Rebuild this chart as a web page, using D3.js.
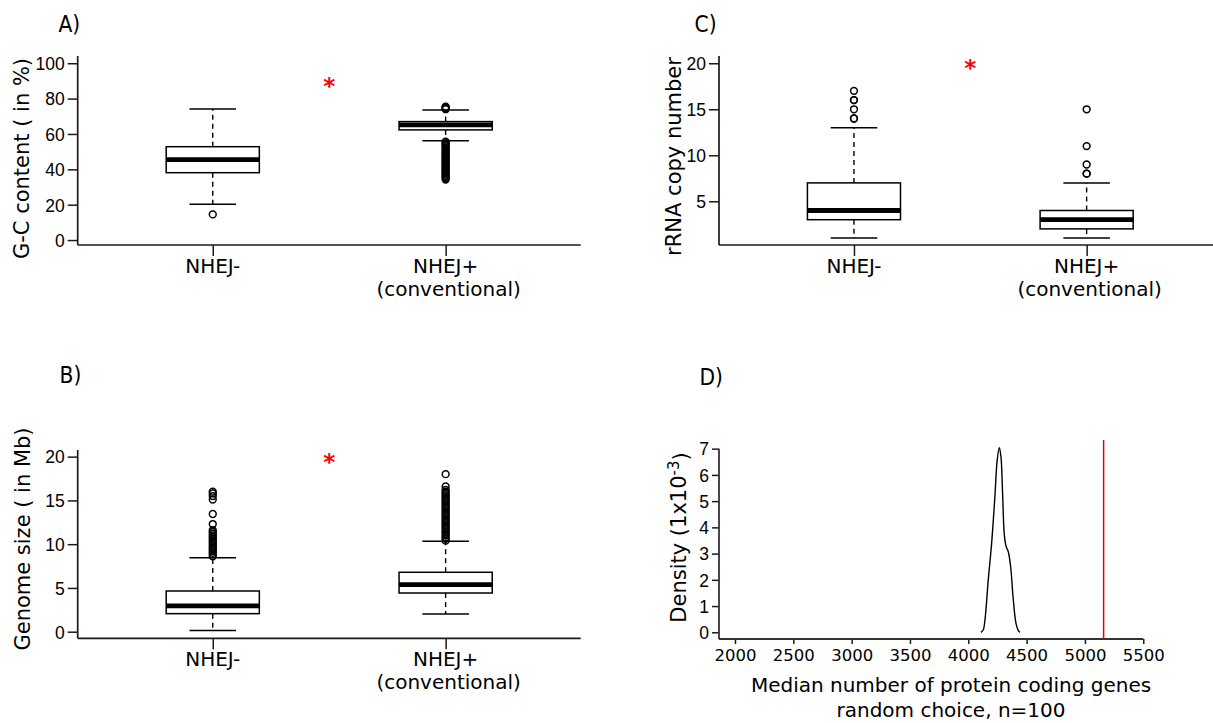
<!DOCTYPE html>
<html><head><meta charset="utf-8">
<script src="https://cdn.jsdelivr.net/npm/d3@7"></script>
<style>body{margin:0;background:#fff}svg{display:block}</style>
</head><body><svg id="c" width="1213" height="723"></svg>
<script>
// ---------------- data ----------------
const categories = ["NHEJ-", "NHEJ+"];
const categorySub = ["", "(conventional)"];

// box stats: [lower whisker, Q1, median, Q3, upper whisker]
const gcStats = [[20.2, 38.1, 45.5, 52.8, 74.1], [56.2, 62.3, 65.1, 67.0, 73.6]];
const gcOutliers = [
  [14.5],
  [75.4, 75.0, 74.5, 74.0, 55.6, 54.8, 54.2, 53.5, 52.6, 51.8, 50.9, 50.1, 49.3, 48.6, 47.9, 47.1, 46.4,
   45.7, 45.0, 44.2, 43.5, 42.8, 42.0, 41.3, 40.6, 39.8, 39.1, 38.4, 37.7, 37.0, 36.3, 35.6, 34.9, 34.2]
];
const gcTicks = [0, 20, 40, 60, 80, 100];

const genomeStats = [[0.15, 2.06, 2.94, 4.65, 8.46], [2.02, 4.42, 5.37, 6.79, 10.33]];
const genomeOutliers = [
  [8.6, 8.8, 9.0, 9.2, 9.4, 9.6, 9.8, 10.0, 10.2, 10.4, 10.6, 10.8, 11.0, 11.2, 11.4, 11.6, 12.3, 13.45, 15.1, 15.5, 15.8, 16.0],
  [10.4, 10.6, 10.8, 11.0, 11.2, 11.4, 11.6, 11.8, 12.0, 12.2, 12.4, 12.6, 12.8, 13.0, 13.2, 13.4, 13.6, 13.8,
   14.0, 14.2, 14.4, 14.6, 14.8, 15.0, 15.2, 15.4, 15.6, 15.8, 16.0, 16.2, 16.6, 18.0]
];
const genomeTicks = [0, 5, 10, 15, 20];

const rrnaStats = [[1, 3, 4, 7, 13], [1, 2, 3, 4, 7]];
const rrnaOutliers = [[14, 14, 15, 16, 16, 17], [8, 8, 9, 11, 15]];
const rrnaTicks = [5, 10, 15, 20];

const starValues = [90, 20, 20];

// density of median number of protein coding genes (random choice, n=100), density x 10^3
const densityX = [4108, 4128, 4143, 4171, 4200, 4228, 4248, 4266, 4280, 4294, 4308, 4323, 4343, 4363, 4386, 4409, 4429, 4443];
const densityY = [0.0, 0.09, 0.47, 1.99, 3.39, 5.17, 6.57, 7.04, 6.7, 5.3, 3.77, 3.29, 3.07, 2.5, 1.23, 0.34, 0.06, 0.0];
const densityXTicks = [2000, 2500, 3000, 3500, 4000, 4500, 5000, 5500];
const densityYTicks = [0, 1, 2, 3, 4, 5, 6, 7];
const observedMedian = 5160;

// ---------------- drawing ----------------
const svg = d3.select("#c");
const AX = "#1a1a1a";
const FT = "'Liberation Sans', Arial, sans-serif";
const FD = "'DejaVu Sans', sans-serif";
const FC = "'DejaVu Sans Condensed', 'DejaVu Sans', sans-serif";

function styleAxis(g, fontFamily, fontSize) {
  g.select(".domain").remove();
  g.selectAll(".tick line").attr("stroke", AX).attr("stroke-width", 1.5);
  g.selectAll(".tick text").attr("fill", "#000").style("font-family", fontFamily).style("font-size", fontSize + "px");
}

function title(txt, x, y) {
  svg.append("text").attr("x", x).attr("y", y).text(txt)
    .style("font-family", FC).style("font-stretch", "condensed").style("font-size", "22.5px").attr("fill", "#000");
}

function ylabel(txt, x, y, sup) {
  const t = svg.append("text").attr("transform", `translate(${x},${y}) rotate(-90)`)
    .attr("text-anchor", "middle").style("font-family", FD).style("font-size", "21px").attr("fill", "#000");
  t.append("tspan").text(txt);
  if (sup) {
    t.append("tspan").text(sup).attr("dy", "-0.45em").style("font-size", "15px");
    t.append("tspan").text(")").attr("dy", "0.45em");
  }
}

function boxPanel(c) {
  const g = svg.append("g");
  const x = d3.scaleLinear().domain([0.42, 2.58]).range([c.left, c.right]);
  const y = d3.scaleLinear().domain(c.yDomain).range([c.bottom, c.top]);

  const ya = g.append("g").attr("transform", `translate(${c.left},0)`)
    .call(d3.axisLeft(y).tickValues(c.ticks).tickSize(10).tickPadding(3).tickSizeOuter(0));
  styleAxis(ya, FT, 17.5);
  ya.selectAll(".tick text").attr("dy", "0.36em");
  const xa = g.append("g").attr("transform", `translate(0,${c.bottom})`)
    .call(d3.axisBottom(x).tickValues([1, 2]).tickSize(11).tickFormat("").tickSizeOuter(0));
  styleAxis(xa, FD, 19);
  g.append("line").attr("x1", c.left).attr("x2", c.left).attr("y1", c.top).attr("y2", c.bottom)
    .attr("stroke", AX).attr("stroke-width", 1.7);
  g.append("line").attr("x1", c.left).attr("x2", c.right).attr("y1", c.bottom).attr("y2", c.bottom)
    .attr("stroke", AX).attr("stroke-width", 1.7);

  categories.forEach((cat, i) => {
    const t = g.append("text").attr("text-anchor", "middle").attr("fill", "#000")
      .style("font-family", FD).style("font-size", "20px");
    t.append("tspan").attr("x", x(i + 1)).attr("y", c.bottom + 28).text(cat);
    if (categorySub[i]) t.append("tspan").attr("x", x(i + 1) + 3).attr("y", c.bottom + 51).text(categorySub[i]);
  });

  const hw = x(1.2) - x(1), sw = x(1.1) - x(1);
  c.stats.forEach((s, i) => {
    const cx = x(i + 1);
    const [lo, q1, med, q3, hi] = s;
    const bg = g.append("g");
    bg.append("line").attr("x1", cx).attr("x2", cx).attr("y1", y(q3)).attr("y2", y(hi))
      .attr("stroke", "#000").attr("stroke-width", 1.4).attr("stroke-dasharray", "5,4");
    bg.append("line").attr("x1", cx).attr("x2", cx).attr("y1", y(q1)).attr("y2", y(lo))
      .attr("stroke", "#000").attr("stroke-width", 1.4).attr("stroke-dasharray", "5,4");
    [lo, hi].forEach(v => bg.append("line").attr("x1", cx - sw).attr("x2", cx + sw).attr("y1", y(v)).attr("y2", y(v))
      .attr("stroke", "#000").attr("stroke-width", 1.5));
    bg.append("rect").attr("x", cx - hw).attr("width", 2 * hw).attr("y", y(q3)).attr("height", y(q1) - y(q3))
      .attr("fill", "#fff").attr("stroke", "#000").attr("stroke-width", 1.5);
    bg.append("line").attr("x1", cx - hw).attr("x2", cx + hw).attr("y1", y(med)).attr("y2", y(med))
      .attr("stroke", "#000").attr("stroke-width", 4.8);
    bg.selectAll("circle.o").data(c.outliers[i]).enter().append("circle")
      .attr("cx", cx).attr("cy", d => y(d)).attr("r", 3.4)
      .attr("fill", "none").attr("stroke", "#000").attr("stroke-width", 1.5);
  });

  g.append("text").attr("x", x(1.5)).attr("y", y(c.star)).attr("dy", "0.56em").attr("text-anchor", "middle")
    .text("*").attr("fill", "#ff0000").style("font-family", FD).style("font-weight", "bold").style("font-size", "23px");
}

boxPanel({left: 77.7, right: 580.7, top: 56, bottom: 245, yDomain: [-2.8, 104.1],
  ticks: gcTicks, stats: gcStats, outliers: gcOutliers, star: starValues[0]});
ylabel("G-C content ( in %)", 29, 158.5);
title("A)", 58.5, 31.5);

boxPanel({left: 77.7, right: 580.7, top: 450, bottom: 638.3, yDomain: [-0.754, 20.76],
  ticks: genomeTicks, stats: genomeStats, outliers: genomeOutliers, star: starValues[1]});
ylabel("Genome size ( in Mb)", 29.5, 539);
title("B)", 59.5, 383);

boxPanel({left: 719, right: 1221.6, top: 56, bottom: 245, yDomain: [0.25, 20.79],
  ticks: rrnaTicks, stats: rrnaStats, outliers: rrnaOutliers, star: starValues[2]});
ylabel("rRNA copy number", 680.5, 156.5);
title("C)", 694.5, 31.5);

(function () {
  const g = svg.append("g");
  const left = 719, bottom = 639, top = 440;
  const x = d3.scaleLinear().domain([1863, 5640]).range([left, 1159.6]);
  const y = d3.scaleLinear().domain([-0.255, 7.33]).range([bottom, top]);

  const xa = g.append("g").attr("transform", `translate(0,${bottom})`)
    .call(d3.axisBottom(x).tickValues(densityXTicks).tickSize(5).tickPadding(5).tickSizeOuter(0).tickFormat(d3.format("d")));
  styleAxis(xa, FD, 16.5);
  const ya = g.append("g").attr("transform", `translate(${left},0)`)
    .call(d3.axisLeft(y).tickValues(densityYTicks).tickSize(7).tickPadding(3).tickSizeOuter(0));
  styleAxis(ya, FT, 17.5);
  ya.selectAll(".tick text").attr("dy", "0.36em");

  g.append("line").attr("x1", left).attr("x2", x(densityXTicks[densityXTicks.length - 1])).attr("y1", bottom).attr("y2", bottom)
    .attr("stroke", "#333").attr("stroke-width", 1.8);
  g.append("line").attr("x1", left).attr("x2", left).attr("y1", y(densityYTicks[densityYTicks.length - 1])).attr("y2", bottom)
    .attr("stroke", "#333").attr("stroke-width", 1.8);

  const pts = densityX.map((v, i) => [v, densityY[i]]);
  g.append("path").datum(pts)
    .attr("d", d3.line().x(d => x(d[0])).y(d => y(d[1])).curve(d3.curveCatmullRom.alpha(0.5)))
    .attr("fill", "none").attr("stroke", "#000").attr("stroke-width", 1.4);

  g.append("line").attr("x1", x(observedMedian)).attr("x2", x(observedMedian)).attr("y1", top).attr("y2", bottom)
    .attr("stroke", "#ee0000").attr("stroke-width", 1.5);

  const t = g.append("text").attr("text-anchor", "middle").attr("fill", "#000")
    .style("font-family", FD).style("font-size", "20px");
  t.append("tspan").attr("x", 951).attr("y", 691.5).text("Median number of protein coding genes");
  t.append("tspan").attr("x", 951).attr("y", 716.5).text("random choice, n=100");
})();
ylabel("Density (1x10", 685.5, 537.5, "-3");
title("D)", 699.5, 385);
</script></body></html>
